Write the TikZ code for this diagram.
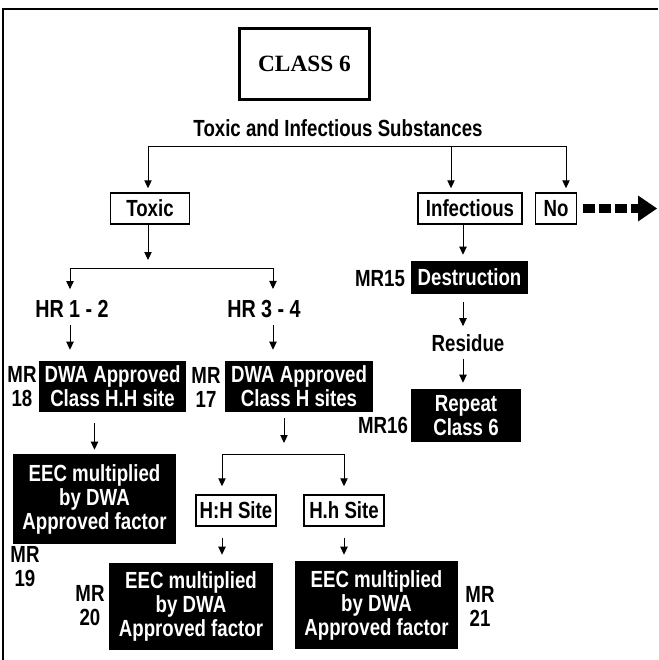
\documentclass[tikz,border=0pt]{standalone}
\usepackage{fontspec}
\usetikzlibrary{arrows.meta}
\newfontfamily\narrowsf[FakeStretch=0.8]{Liberation Sans}
\newfontfamily\serifbf{Liberation Serif}
\newlength{\unitpx}\setlength{\unitpx}{0.75pt}
\newcommand{\flowfont}{\narrowsf\bfseries\fontsize{17.5}{18}\selectfont}

\begin{document}
\begin{tikzpicture}[x=0.75pt,y=0.75pt,yscale=-1,xscale=1,
  whitebox/.style={draw, line width=1.1pt, fill=white, font=\flowfont, inner sep=0pt, minimum height=31\unitpx},
  blackbox/.style={fill=black, text=white, font=\flowfont, align=center, inner sep=0pt},
  mrlabel/.style={font=\flowfont, align=center, inner sep=0pt},
  link/.style={line width=0.75pt},
  arr/.style={line width=0.75pt, -{Triangle[length=6pt,width=5.5pt]}}]
\useasboundingbox (0,0) rectangle (658,660);

%Straight Lines (frame)
\draw[line width=1pt] (3,660) -- (3,9) -- (658,9);

%Shape: Rectangle
\node[draw, line width=2.25pt, minimum width=130\unitpx, minimum height=71\unitpx, font=\serifbf\bfseries\fontsize{17.5}{18}\selectfont] (class) at (304.5,64) {CLASS 6};
% Text Node
\node[mrlabel] (substances) at (338,128) {Toxic and Infectious Substances};

\coordinate (busL) at (148,146);
\coordinate (busM) at (451,146);
\coordinate (busR) at (566,146);

%Shape: Rectangle
\node[whitebox, minimum width=79\unitpx] (toxic) at (150,208.5) {Toxic};
\node[whitebox, minimum width=104\unitpx] (infectious) at (470,208.5) {Infectious};
\node[whitebox, minimum width=41\unitpx] (no) at (556,208.5) {No};

%Straight Lines
\draw[link] (busL) -- (busR);
\draw[arr, shorten >=4\unitpx] (busL) -- (busL |- toxic.north);
\draw[arr, shorten >=4\unitpx] (busM) -- (busM |- infectious.north);
\draw[arr, shorten >=4\unitpx] (busR) -- (busR |- no.north);

%Dashed arrow
\coordinate (noend) at (657,208.5);
\draw[line width=6.75pt, dash pattern=on 9pt off 3pt, -{Triangle[length=14.25pt,width=19.5pt,line width=0pt]}] ([xshift=4.5pt]no.east) -- (noend);

%Toxic branch
\coordinate (toxsplit) at (148,268);
\coordinate (hrL) at (70,268);
\coordinate (hrR) at (273,268);
\draw[arr, shorten >=8\unitpx] (toxic.south -| toxsplit) -- (toxsplit);
\draw[link] (hrL) -- (hrR);

% Text Node
\node[mrlabel, font=\narrowsf\bfseries\fontsize{18.5}{19}\selectfont] (hr12) at (72,309) {HR 1 - 2};
\node[mrlabel, font=\narrowsf\bfseries\fontsize{18.5}{19}\selectfont] (hr34) at (264,309) {HR 3 - 4};
\draw[arr, shorten >=11\unitpx] (hrL) -- (hrL |- hr12.north);
\draw[arr, shorten >=11\unitpx] (hrR) -- (hrR |- hr34.north);

%Shape: Rectangle
\node[blackbox, minimum width=147\unitpx, minimum height=51\unitpx] (dwaHH) at (112.5,386.5) {DWA Approved\\Class H.H site};
\node[blackbox, minimum width=148\unitpx, minimum height=51\unitpx] (dwaH) at (299,386.5) {DWA Approved\\Class H sites};
\draw[arr, shorten <=7\unitpx, shorten >=11\unitpx] (hr12.south -| hrL) -- (hrL |- dwaHH.north);
\draw[arr, shorten <=7\unitpx, shorten >=11\unitpx] (hr34.south -| hrR) -- (hrR |- dwaH.north);

% Text Node
\node[mrlabel] (mr18) at (22,387) {MR\\18};
\node[mrlabel] (mr17) at (206,387) {MR\\17};

%Shape: Rectangle
\node[blackbox, minimum width=163\unitpx, minimum height=90\unitpx] (eecA) at (94.5,499) {EEC multiplied\\by DWA\\Approved factor};
\draw[arr, shorten <=11\unitpx, shorten >=4\unitpx] (eecA.north |- dwaHH.south) -- (eecA.north);
% Text Node
\node[mrlabel] (mr19) at (25,567) {MR\\19};

%Sites branch
\coordinate (sitesplit) at (284,454);
\coordinate (siteL) at (222,454);
\coordinate (siteR) at (344,454);
\draw[arr, shorten <=6\unitpx, shorten >=11\unitpx] (dwaH.south -| sitesplit) -- (sitesplit);
\draw[link] (siteL) -- (siteR);

%Shape: Rectangle
\node[whitebox, minimum width=80\unitpx] (hhsite) at (236,510.5) {H:H Site};
\node[whitebox, minimum width=80\unitpx] (hlsite) at (344,510.5) {H.h Site};
\draw[arr, shorten >=8\unitpx] (siteL) -- (siteL |- hhsite.north);
\draw[arr, shorten >=8\unitpx] (siteR) -- (hlsite.north);

\node[blackbox, minimum width=164\unitpx, minimum height=87\unitpx] (eecB) at (191,606.5) {EEC multiplied\\by DWA\\Approved factor};
\node[blackbox, minimum width=163\unitpx, minimum height=88\unitpx] (eecC) at (376.5,605) {EEC multiplied\\by DWA\\Approved factor};
\draw[arr, shorten <=11\unitpx, shorten >=8\unitpx] (hhsite.south -| siteL) -- (siteL |- eecB.north);
\draw[arr, shorten <=11\unitpx, shorten >=6\unitpx] (hlsite.south) -- (hlsite.south |- eecC.north);

% Text Node
\node[mrlabel] (mr20) at (90,606) {MR\\20};
\node[mrlabel] (mr21) at (480,606) {MR\\21};

%Infectious branch
\coordinate (infcol) at (463,224);
\node[blackbox, minimum width=117\unitpx, minimum height=33\unitpx] (destruction) at (469.5,277.5) {Destruction};
\draw[arr, shorten >=6\unitpx] (infectious.south -| infcol) -- (infcol |- destruction.north);
\node[mrlabel] (mr15) at (380,279) {MR15};
\node[mrlabel] (residue) at (468,343) {Residue};
\draw[arr, shorten <=8\unitpx, shorten >=8\unitpx] (destruction.south -| infcol) -- (infcol |- residue.north);
\node[blackbox, minimum width=110\unitpx, minimum height=53\unitpx] (repeat) at (466,415.5) {Repeat\\Class 6};
\draw[arr, shorten <=7\unitpx, shorten >=6\unitpx] (residue.south -| infcol) -- (infcol |- repeat.north);
\node[mrlabel] (mr16) at (383,425) {MR16};

\end{tikzpicture}
\end{document}
